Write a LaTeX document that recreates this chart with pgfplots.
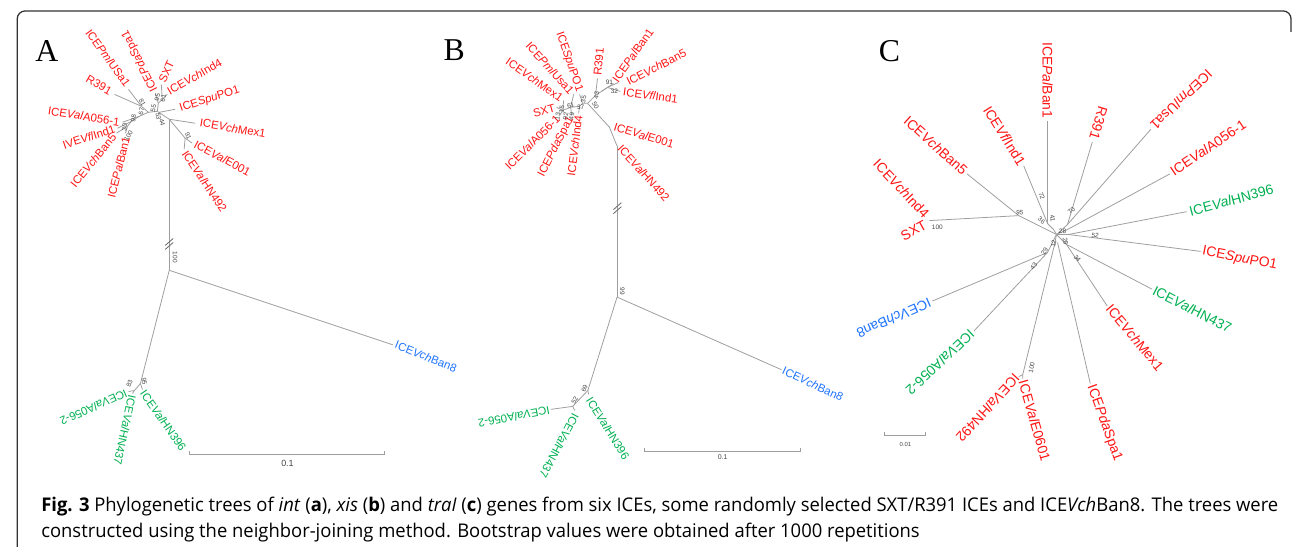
\documentclass[border=0pt]{standalone}
\usepackage{pgfplots}
\pgfplotsset{compat=1.18}
\usepackage{fontspec}
\usepackage{graphicx}
\setmainfont{Liberation Sans}
\newfontfamily\seriffont{Liberation Serif}
\newfontfamily\capfont{Open Sans}

\definecolor{lred}{RGB}{255,20,20}
\definecolor{lgreen}{RGB}{0,176,80}
\definecolor{lblue}{RGB}{30,115,255}
\definecolor{brgray}{RGB}{158,158,158}
\definecolor{bsgray}{RGB}{70,70,70}
\definecolor{capgray}{RGB}{50,50,50}

\tikzset{
  labA/.style={inner sep=0.8pt, font=\fontsize{11.5}{12}\selectfont},
  labC/.style={inner sep=0.8pt, font=\fontsize{14}{15}\selectfont},
  bs/.style={inner sep=0pt, text=bsgray, font=\fontsize{6.5}{7}\selectfont},
}
\pgfplotsset{br/.style={brgray, line width=0.8pt, no markers},
             brk/.style={black!60, line width=0.8pt, no markers}}

% label: style, colour, rotation, anchor, x,y, text
\newcommand\lab[6]{\node[#1,text=#2,rotate=#3,anchor=#4] at (axis cs:#5) {#6};}
\newcommand\bs[3]{\node[bs,rotate=#2] at (axis cs:#1) {#3};}
\newcommand\br[1]{\addplot[br] coordinates {#1};}

\begin{document}
\sbox0{\capfont\fontsize{19}{23}\selectfont\textbf{Fig. 3} Phylogenetic trees of \textit{int} (\textbf{a}), \textit{xis} (\textbf{b}) and \textit{traI} (\textbf{c}) genes from six ICEs, some randomly selected SXT/R391 ICEs and ICE\textit{Vch}Ban8. The trees were}
\sbox2{\capfont\fontsize{19}{23}\selectfont constructed using the neighbor-joining method. Bootstrap values were obtained after 1000 repetitions}
\pgfmathsetmacro\capsx{1245/\the\wd0}
\begin{tikzpicture}
\begin{axis}[at={(0,0)}, anchor=south west, scale only axis,
  width=1293pt, height=550pt, xmin=0, xmax=1293, ymin=0, ymax=550,
  y dir=reverse, axis lines=none, clip=false]

% frame
\draw[black!80, line width=1.3pt, rounded corners=8pt]
  (axis cs:9,552) -- (axis cs:9,11) -- (axis cs:1291,11) -- (axis cs:1291,32);

% panel letters
\node[anchor=base west, inner sep=0, font=\seriffont\fontsize{32}{32}\selectfont] at (axis cs:27,62) {A};
\node[anchor=base west, inner sep=0, font=\seriffont\fontsize{32}{32}\selectfont] at (axis cs:438,61) {B};
\node[anchor=base west, inner sep=0, font=\seriffont\fontsize{32}{32}\selectfont] at (axis cs:876,62) {C};

% ================= tree A =================
\br{(162,120) (162,272)}
\br{(162,120) (156,116) (150,112) (141,113) (132,117) (124,122) (120,127)}
\br{(141,113) (134,107)}
\br{(134,107) (121,90)}
\br{(134,107) (107,95)}
\br{(132,117) (115,123)}
\br{(124,122) (110,129)}
\br{(120,127) (109,134)}
\br{(120,127) (118,134)}
\br{(150,112) (151,104) (148,94)}
\br{(151,104) (155,100) (154,85)}
\br{(155,100) (160,95)}
\br{(152,113) (168,110)}
\br{(162,120) (188,124)}
\br{(162,120) (178,139) (185,144)}
\br{(178,139) (177,150)}
\addplot[brk] coordinates {(158,247) (166,240)};
\addplot[brk] coordinates {(158,251) (166,244)};
\br{(162,272) (387,347)}
\br{(162,272) (133,386) (127,393)}
\br{(133,386) (135,392)}
\br{(127,393) (125,396)}
\br{(127,393) (121,394)}
\br{(182,454) (182,457) (379,457) (379,454)}
\node[inner sep=0, font=\fontsize{9}{9}\selectfont, text=bsgray] at (axis cs:281,466) {0.1};

\lab{labA}{lred}{-30}{east}{104,93}{R391}
\lab{labA}{lred}{-54}{east}{121,87}{ICE\textit{Pml}USa1}
\lab{labA}{lred}{-9}{east}{113,123}{ICE\textit{Val}A056-1}
\lab{labA}{lred}{18}{east}{108,129}{IVE\textit{Vfl}Ind1}
\lab{labA}{lred}{51}{east}{107,135}{ICE\textit{Vch}Ban5}
\lab{labA}{lred}{76}{east}{119,137}{ICE\textit{Pal}Ban1}
\lab{labA}{lred}{117}{west}{148,92}{ICE\textit{Pda}Spa1}
\lab{labA}{lred}{65}{west}{154,83}{SXT}
\lab{labA}{lred}{30}{west}{160,93}{ICE\textit{Vch}Ind4}
\lab{labA}{lred}{18}{west}{172,110}{ICE\textit{Spu}PO1}
\lab{labA}{lred}{-10}{west}{192,123}{ICE\textit{Vch}Mex1}
\lab{labA}{lred}{-28}{west}{187,144}{ICE\textit{Val}E001}
\lab{labA}{lred}{-56}{west}{177,152}{ICE\textit{Val}HN492}
\lab{labA}{lblue}{-22}{west}{389,346}{ICE\textit{Vch}Ban8}
\lab{labA}{lgreen}{-55}{west}{135,393}{ICE\textit{Val}HN396}
\lab{labA}{lgreen}{-102}{west}{125,397}{ICE\textit{Val}HN437}
\lab{labA}{lgreen}{204}{west}{120,395}{ICE\textit{Val}A056-2}

\bs{135,103}{-60}{81}
\bs{134,112}{80}{67}
\bs{126,119}{80}{98}
\bs{117,128}{80}{30}
\bs{121,137}{60}{100}
\bs{146,109}{80}{55}
\bs{150,98}{80}{95}
\bs{156,99}{80}{61}
\bs{151,117}{-80}{53}
\bs{155,123}{-80}{44}
\bs{181,137}{-70}{91}
\bs{168,259}{-90}{100}
\bs{122,386}{70}{83}
\bs{137,384}{-80}{95}

% ================= tree B =================
\br{(612.7,147) (612.7,299)}
\br{(612.7,147) (605,128) (583,104)}
\br{(583,104) (591,96) (593,79)}
\br{(591,96) (603,88) (614,83)}
\br{(603,88) (616,92)}
\br{(597,92) (609,84)}
\br{(583,104) (578,104) (575,107) (566,108) (558,111)}
\br{(578,104) (575,95)}
\br{(566,108) (569,95)}
\br{(558,111) (559,101)}
\br{(558,111) (552,108)}
\br{(558,111) (555,116)}
\br{(566,108) (567,116)}
\br{(575,107) (574,114)}
\addplot[brk] coordinates {(609,211) (617,204)};
\addplot[brk] coordinates {(609,215) (617,208)};
\br{(612.7,299) (778,372)}
\br{(612.7,299) (583.3,393) (568,409)}
\br{(583.3,393) (584,397)}
\br{(568,409) (570,413)}
\br{(568,409) (546,412)}
\br{(640,451) (640,454) (797,454) (797,451)}
\node[inner sep=0, font=\fontsize{7}{7}\selectfont, text=bsgray] at (axis cs:719,460) {0.1};

\lab{labA}{lred}{-48}{west}{615,147}{ICE\textit{Val}HN492}
\lab{labA}{lred}{-17}{west}{609,127}{ICE\textit{Val}E001}
\lab{labA}{lred}{85}{west}{593,77}{R391}
\lab{labA}{lred}{55}{west}{610,82}{ICE\textit{Pal}Ban1}
\lab{labA}{lred}{27}{west}{622,83}{ICE\textit{Vch}Ban5}
\lab{labA}{lred}{-8}{west}{618,92}{ICE\textit{Vfl}Ind1}
\lab{labA}{lred}{-71}{east}{575,93}{ICE\textit{Spu}PO1}
\lab{labA}{lred}{-48}{east}{568,94}{ICE\textit{Pml}Usa1}
\lab{labA}{lred}{-35}{east}{558,100}{ICE\textit{Vch}Mex1}
\lab{labA}{lred}{15}{east}{551,108}{SXT}
\lab{labA}{lred}{45}{east}{554,117}{ICE\textit{Val}A056-1}
\lab{labA}{lred}{63}{east}{567,117}{ICE\textit{Pda}Spa1}
\lab{labA}{lred}{83}{east}{574,115}{ICE\textit{Vch}Ind4}
\lab{labA}{lblue}{-25}{west}{779,372}{ICE\textit{Vch}Ban8}
\lab{labA}{lgreen}{-58}{west}{584,400}{ICE\textit{Val}HN396}
\lab{labA}{lgreen}{-118}{west}{571.7,416}{ICE\textit{Val}HN437}
\lab{labA}{lgreen}{190.5}{west}{545.7,412.7}{ICE\textit{Val}A056-2}

\bs{605,83}{0}{91}
\bs{610,92}{0}{32}
\bs{592,96}{80}{43}
\bs{579,100}{80}{35}
\bs{591,106}{-60}{50}
\bs{576,108}{0}{37}
\bs{566,106}{15}{61}
\bs{557,110}{80}{15}
\bs{553,117}{80}{13}
\bs{561,117}{80}{92}
\bs{567,117}{80}{49}
\bs{618,293}{-90}{99}
\bs{580,391}{70}{69}
\bs{570,403}{60}{52}

% ================= tree C =================
\br{(1046,122) (1046,225) (1052,231) (1055,236)}
\br{(1022,167) (1046,225)}
\br{(965,175) (1017,217)}
\br{(927,222) (1017,217) (1055,236)}
\br{(1091,143) (1066,226)}
\br{(1150,130) (1066,226) (1055,236)}
\br{(1169,175) (1066,231) (1055,236)}
\br{(1186,213) (1067,236)}
\br{(1200,253) (1067,236) (1055,236)}
\br{(1151,291) (1065,246)}
\br{(1106,308) (1065,246) (1055,236)}
\br{(1089,386) (1056,244)}
\br{(1021,381) (1021,377) (1053,246) (1055,236)}
\br{(1021,377) (1017,379)}
\br{(972,333) (1046,254) (1055,236)}
\br{(930,303) (1046,254)}
\br{(882,435) (882,438) (923,438) (923,435)}
\node[inner sep=0, font=\fontsize{6}{6}\selectfont, text=bsgray] at (axis cs:903,447) {0.01};

\lab{labC}{lred}{-90}{east}{1046,120}{ICE\textit{Pal}Ban1}
\lab{labC}{lred}{-58}{east}{1021,166}{ICE\textit{Vfl}Ind1}
\lab{labC}{lred}{-42}{east}{964,174}{ICE\textit{Vch}Ban5}
\lab{labC}{lred}{-47}{east}{925,218}{ICE\textit{Vch}Ind4}
\lab{labC}{lred}{29}{east}{924,225}{SXT}
\lab{labC}{lred}{253}{east}{1092,141}{R391}
\lab{labC}{lred}{224}{east}{1151,129}{ICE\textit{Pml}Usa1}
\lab{labC}{lred}{34}{west}{1170,174}{ICE\textit{Val}A056-1}
\lab{labC}{lgreen}{15}{west}{1188,213}{ICE\textit{Val}HN396}
\lab{labC}{lred}{-11}{west}{1201,253}{ICE\textit{Spu}PO1}
\lab{labC}{lgreen}{-27}{west}{1152,291}{ICE\textit{Val}HN437}
\lab{labC}{lred}{-50}{west}{1107,308}{ICE\textit{Vch}Mex1}
\lab{labC}{lred}{-70}{west}{1089,387}{ICE\textit{Pda}Spa1}
\lab{labC}{lred}{-74}{west}{1021,382}{ICE\textit{Val}E0601}
\lab{labC}{lred}{227.5}{west}{1016,378}{ICE\textit{Val}HN492}
\lab{labC}{lgreen}{223}{west}{971,334}{ICE\textit{Val}A056-2}
\lab{labC}{lblue}{203.5}{west}{929,304}{ICE\textit{Vch}Ban8}

\bs{1018,214}{-10}{95}
\bs{1040,222}{-40}{36}
\bs{1051,220}{-80}{41}
\bs{1040,197}{-70}{72}
\bs{1070,212}{45}{70}
\bs{1061,233}{0}{28}
\bs{1094,237}{-8}{52}
\bs{1064,243}{-80}{28}
\bs{1076,260}{-50}{34}
\bs{1052,245}{75}{12}
\bs{1043,253}{60}{29}
\bs{1032,268}{55}{43}
\bs{935,229}{0}{100}
\bs{1030,370}{80}{100}

% ================= caption =================
\node[anchor=base west, inner sep=0, text=capgray] at (axis cs:33,515) {\scalebox{\capsx}[1]{\usebox0}};
\node[anchor=base west, inner sep=0, text=capgray] at (axis cs:33,541) {\scalebox{\capsx}[1]{\usebox2}};
\end{axis}
\pgfresetboundingbox
\path (0,0) rectangle (1293pt,550pt);
\end{tikzpicture}
\end{document}
